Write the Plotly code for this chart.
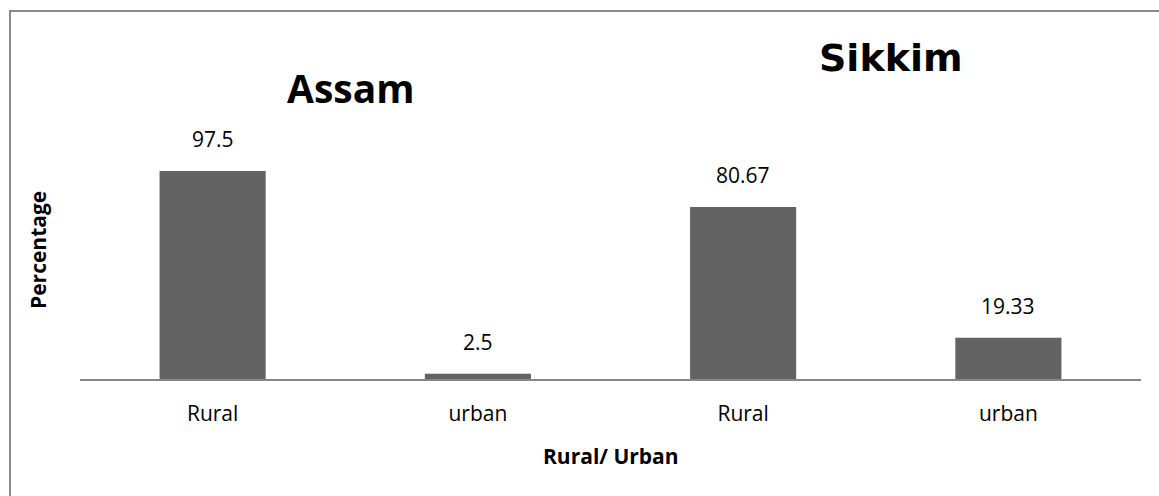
import plotly.graph_objects as go

# Share of respondents by residence, per state
states = ["Assam", "Sikkim"]
categories = ["Rural", "urban", "Rural", "urban"]
values = [97.5, 2.5, 80.67, 19.33]
value_labels = ["97.5", "2.5", "80.67", "19.33"]

W, H = 1159, 496
L, R, T, B = 80, 18, 123, 117
plot_w = W - L - R
plot_h = H - T - B


def px_x(p):
    return (p - L) / plot_w


def px_y(p):
    return (H - B - p) / plot_h


positions = list(range(len(categories)))

fig = go.Figure()
fig.add_trace(go.Bar(
    x=positions,
    y=values,
    width=0.4,
    marker=dict(color="#636363", line=dict(width=0)),
    hoverinfo="skip",
))

# value labels above each bar
for xi, v, lab in zip(positions, values, value_labels):
    fig.add_annotation(
        x=xi, y=v, xref="x", yref="y", text=lab, showarrow=False,
        yanchor="bottom", yshift=16,
        font=dict(family="Open Sans", size=21, color="#000000"),
    )

# state headings
fig.add_annotation(
    x=px_x(351), y=px_y(87), xref="paper", yref="paper", text="<b>" + states[0] + "</b>",
    showarrow=False, xanchor="center", yanchor="middle",
    font=dict(family="Open Sans", size=39, color="#000000"),
)
fig.add_annotation(
    x=px_x(891), y=px_y(58), xref="paper", yref="paper", text="<b>" + states[1] + "</b>",
    showarrow=False, xanchor="center", yanchor="middle",
    font=dict(family="DejaVu Sans", size=38, color="#000000"),
)

# axis titles
fig.add_annotation(
    x=0.5, y=px_y(456), xref="paper", yref="paper", text="<b>Rural/ Urban</b>",
    showarrow=False, xanchor="center", yanchor="middle",
    font=dict(family="Open Sans", size=21, color="#000000"),
)
fig.add_annotation(
    x=px_x(38), y=px_y(250), xref="paper", yref="paper", text="<b>Percentage</b>",
    showarrow=False, xanchor="center", yanchor="middle", textangle=-90,
    font=dict(family="Open Sans", size=21, color="#000000"),
)

# chart frame
fig.add_shape(
    type="rect", xref="paper", yref="paper",
    x0=px_x(10), x1=px_x(W + 20), y0=px_y(H + 20), y1=px_y(11),
    line=dict(color="#8a8a8a", width=2), fillcolor="rgba(0,0,0,0)", layer="above",
)

fig.update_layout(
    width=W, height=H,
    margin=dict(l=L, r=R, t=T, b=B),
    paper_bgcolor="#ffffff", plot_bgcolor="#ffffff",
    showlegend=False,
    bargap=0.6,
    xaxis=dict(
        tickmode="array", tickvals=positions, ticktext=categories,
        range=[-0.5, len(categories) - 0.5],
        showline=True, linecolor="#868686", linewidth=2,
        showgrid=False, zeroline=False, ticks="",
        ticklabelstandoff=15,
        tickfont=dict(family="Open Sans", size=21, color="#000000"),
        fixedrange=True,
    ),
    yaxis=dict(
        range=[0, 120], visible=False, showgrid=False, zeroline=False,
        fixedrange=True,
    ),
)

fig.write_html("out.html")
